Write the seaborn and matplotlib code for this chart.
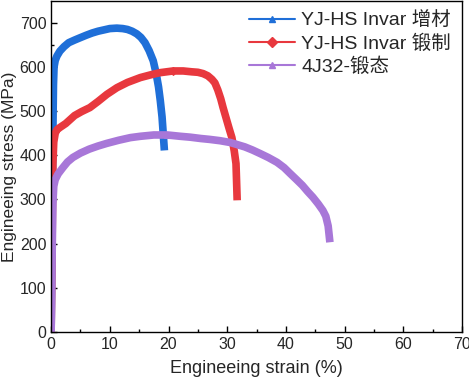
import numpy as np
import pandas as pd
import matplotlib
matplotlib.use("Agg")
import matplotlib.pyplot as plt
from matplotlib.lines import Line2D
import seaborn as sns

# curves: strain (%) and stress (MPa)
am_strain = [0, 0.1, 0.2, 0.3, 0.4, 0.5, 0.7, 1.0, 1.5, 2.2, 3.0, 4.0, 4.9, 6.0, 7.0, 8.0, 9.0, 10.0,
             11.2, 12.2, 13.0, 13.8, 14.6, 15.3, 16.0, 16.7, 17.4, 17.9, 18.3, 18.6, 18.9, 19.1, 19.3]
am_stress = [0, 150, 300, 450, 560, 600, 615, 625, 636, 646, 655, 661, 666, 672, 677, 681, 684, 687,
             688, 687, 685, 681, 675, 667, 655, 637, 614, 585, 555, 524, 487, 449, 411]

fg_strain = [0, 0.1, 0.2, 0.3, 0.45, 0.7, 1.0, 1.5, 2.5, 4.0, 5.2, 6.6, 8.0, 9.5, 11.2, 13.0, 15.2, 16.9,
             18.5, 20.8, 22.5, 24.0, 25.0, 25.9, 26.7, 27.4, 27.9, 28.4, 28.9, 29.3, 29.8, 30.3, 30.8,
             31.2, 31.5, 31.6, 31.7]
fg_stress = [0, 120, 250, 380, 430, 450, 458, 463, 472, 490, 499, 508, 522, 538, 553, 565, 576, 582,
             587, 591, 591, 589, 588, 585, 580, 572, 564, 548, 528, 508, 485, 462, 440,
             410, 381, 340, 298]

j_strain = [0, 0.1, 0.2, 0.3, 0.45, 0.7, 1.2, 2.0, 2.8, 3.7, 5.0, 6.5, 8.0, 9.5, 11.5, 13.5, 15.2, 17.5,
            19.8, 22.0, 23.7, 25.5, 27.0, 28.8, 30.5, 32.0, 33.0, 34.3, 35.6, 37.0, 38.5, 39.7, 40.7,
            41.8, 42.8, 43.7, 44.6, 45.5, 46.3, 46.8, 47.2, 47.5]
j_stress = [0, 100, 200, 290, 330, 345, 358, 372, 385, 395, 405, 414, 421, 427, 434, 440, 443, 446,
            446, 443, 441, 438, 436, 433, 429, 423, 419, 412, 404, 395, 384, 372, 359,
            345, 332, 318, 305, 290, 275, 262, 240, 203]

labels = ["YJ-HS Invar 增材", "YJ-HS Invar 锻制", "4J32-锻态"]
colors = ["#1f6fd8", "#e8383e", "#a877d8"]
markers = ["^", "D", "^"]

sns.set_theme(style="ticks")
plt.rcParams["font.family"] = ["Liberation Sans", "Noto Sans CJK SC", "DejaVu Sans"]

fig = plt.figure(figsize=(4.69, 3.78), dpi=100)
ax = fig.add_axes([0.109, 0.122, 0.876, 0.876])

series = [(am_strain, am_stress), (fg_strain, fg_stress), (j_strain, j_stress)]
peaks = [18, 19, 18]
for (x, y), lab, c, m, pk in zip(series, labels, colors, markers, peaks):
    df = pd.DataFrame({"strain": x, "stress": y})
    sns.lineplot(data=df, x="strain", y="stress", sort=False, ax=ax, color=c,
                 lw=5.5, solid_joinstyle="round", solid_capstyle="butt",
                 marker=m, markersize=4, markevery=[pk], mec=c)

# legend handles: thin line with small marker
handles = [Line2D([0, 0.5, 1], [0, 0, 0], color=c, lw=1.5, marker=m, markersize=5, markevery=[1])
           for c, m in zip(colors, markers)]
leg = ax.legend(handles, labels, loc="upper left", bbox_to_anchor=(0.455, 1.0),
                frameon=False, fontsize=14, handlelength=2.4, handletextpad=0.3,
                labelspacing=0.25, borderaxespad=0.15)

ax.set_xlim(0, 70)
ax.set_ylim(0, 750)
ax.set_xticks(np.arange(0, 71, 10))
ax.set_yticks(np.arange(0, 701, 100))
ax.set_xticks(np.arange(5, 70, 10), minor=True)
ax.set_yticks(np.arange(50, 750, 100), minor=True)
ax.tick_params(direction="in", which="major", length=4, width=1, labelsize=11.5, color="black")
ax.tick_params(direction="in", which="minor", length=2, width=1, color="black")
ax.set_xlabel("Engineeing strain (%)", fontsize=13, labelpad=6)
ax.set_ylabel("Engineeing stress (MPa)", fontsize=12.5, labelpad=2)
for s in ax.spines.values():
    s.set_color("black")
    s.set_linewidth(1)

fig.savefig("out.png", dpi=100)
